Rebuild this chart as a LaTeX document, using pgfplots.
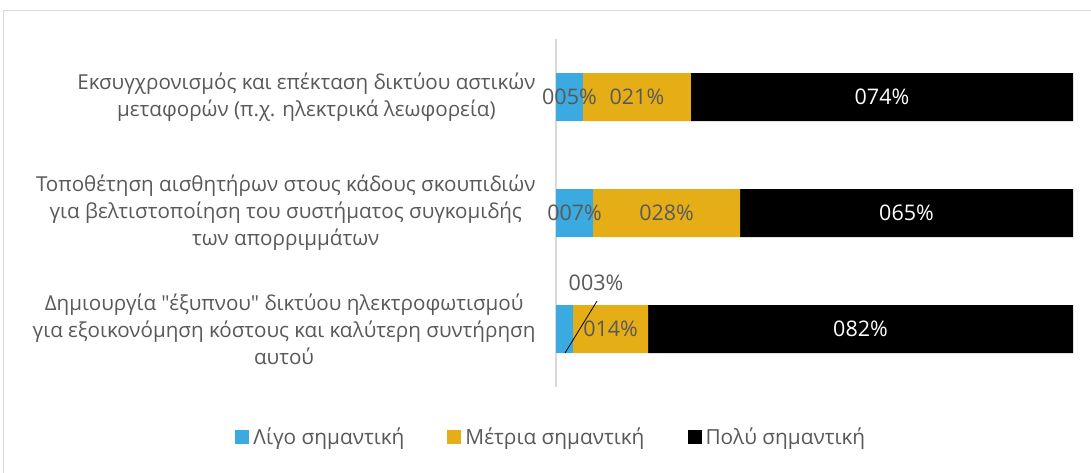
\documentclass[border=0pt]{standalone}
\usepackage{fontspec}
\setmainfont{Open Sans}[Ligatures=TeXOff]
\usepackage{pgfplots}
\usepackage{pgfplotstable}
\pgfplotsset{compat=1.18}
\definecolor{cblue}{RGB}{58,170,225}
\definecolor{corange}{RGB}{230,174,22}
\definecolor{tgray}{RGB}{89,89,89}
\definecolor{lgray}{RGB}{217,217,217}

\pgfplotstableread{
y a la b lb c lc
1 3.3 {} 14.5 014\% 82.2 082\%
2 7.2 007\% 28.4 028\% 64.4 065\%
3 5.2 005\% 20.9 021\% 73.9 074\%
}\data

\begin{document}
\begin{tikzpicture}[x=1pt,y=1pt]
\useasboundingbox (0,0) rectangle (1091,472);
\fill[white] (0,0) rectangle (1091,472);
\draw[lgray, line width=1.2pt] (3.5,-5) rectangle (1096,461.5);
\begin{axis}[
  at={(556pt,85pt)}, anchor=south west,
  scale only axis, width=517pt, height=348pt,
  xbar stacked, bar width=48pt,
  xmin=0, xmax=100, ymin=0.5, ymax=3.5,
  clip=false,
  hide x axis,
  axis y line*=left,
  y axis line style={lgray, line width=1.2pt, -},
  ytick={1,2,3},
  major tick length=0pt,
  yticklabels={{Δημιουργία "έξυπνου" δικτύου ηλεκτροφωτισμού\\για εξοικονόμηση κόστους και καλύτερη συντήρηση\\αυτού},
               {Τοποθέτηση αισθητήρων στους κάδους σκουπιδιών\\για βελτιστοποίηση του συστήματος συγκομιδής\\των απορριμμάτων},
               {Εκσυγχρονισμός και επέκταση δικτύου αστικών\\μεταφορών (π.χ. ηλεκτρικά λεωφορεία)}},
  yticklabel style={align=center, font=\fontsize{20.6}{27}\selectfont, text=tgray, xshift=-17pt},
  point meta=explicit symbolic,
  nodes near coords={\pgfplotspointmeta},
  every node near coord/.append style={anchor=center, font=\fontsize{21.5}{24}\selectfont, text=tgray},
  legend columns=3,
  legend style={at={(-0.009,-0.144)}, anchor=center, draw=none, fill=none, font=\fontsize{20.8}{26}\selectfont, text=tgray,
    /tikz/every odd column/.append style={column sep=2pt},
    /tikz/every even column/.append style={column sep=41pt}},
  legend image code/.code={\fill[#1] (0pt,-7pt) rectangle (14pt,7pt);},
]
\addplot[fill=cblue, draw=none] table[x=a, y=y, meta=la] {\data};
\addplot[fill=corange, draw=none] table[x=b, y=y, meta=lb] {\data};
\addplot[fill=black, draw=none, nodes near coords style={text=white}] table[x=c, y=y, meta=lc] {\data};
\legend{Λίγο σημαντική, Μέτρια σημαντική, Πολύ σημαντική}
\coordinate (l1) at (axis cs:1.74,0.793);
\coordinate (l2) at (axis cs:7.93,1.241);
\node[text=tgray, font=\fontsize{21.5}{24}\selectfont] at (axis cs:7.74,1.397) {003\%};
\end{axis}
\draw[black, line width=0.8pt] (l1) -- (l2);
\end{tikzpicture}
\end{document}
